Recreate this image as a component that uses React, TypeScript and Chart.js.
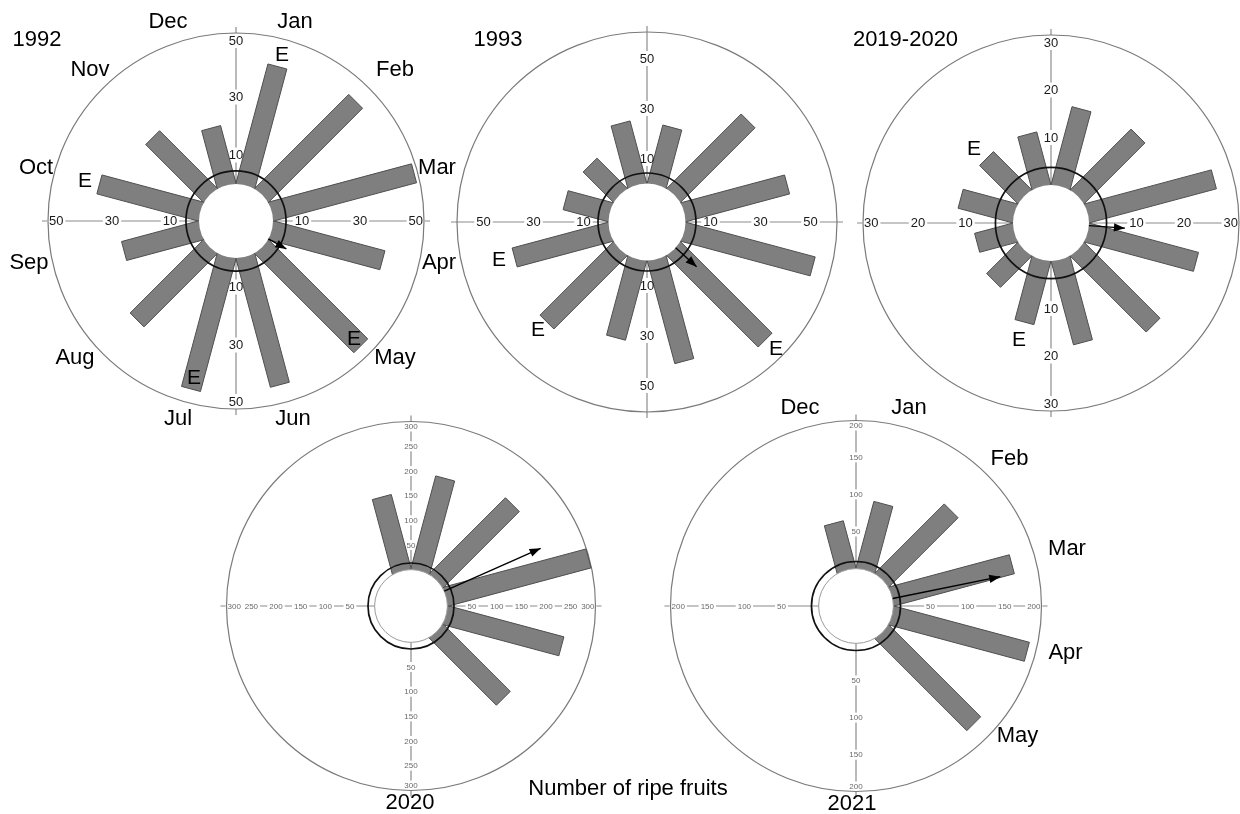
import React, { useEffect, useRef } from 'react';
import { Chart, registerables } from 'chart.js';

Chart.register(...registerables);

const MONTHS = ['Jan', 'Feb', 'Mar', 'Apr', 'May', 'Jun', 'Jul', 'Aug', 'Sep', 'Oct', 'Nov', 'Dec'];

// Ripe fruits counted per month, January to December (null = month not sampled)
const fruits1992 = [42.4, 45.6, 50.8, 39.5, 48.1, 45.7, 47.2, 35.5, 27.2, 36.0, 27.9, 20.4];
const fruits1993 = [23.7, 41.8, 42.6, 53.2, 51.4, 42.2, 32.5, 41.2, 39.4, 18.3, 16.8, 25.4];
const fruits2019_2020 = [16.8, 17.9, 27.5, 23.6, 22.4, 18.0, 13.6, 9.1, 8.1, 11.7, 11.2, 11.3];
const fruits2020 = [194, 217, 299, 242, 191, null, null, null, null, null, null, 155];
const fruits2021 = [92, 131, 167, 188, 174, null, null, null, null, null, null, 65];

// Radial tick labels of each rose
const ticks1992 = [10, 30, 50];
const ticks1993 = [10, 30, 50];
const ticks2019_2020 = [10, 20, 30];
const ticks2020 = [50, 100, 150, 200, 250, 300];
const ticks2021 = [50, 100, 150, 200];

// Mean vector (angle clockwise from north, length in fruits) and the reference circle
const mean1992 = { angle: 119, length: 7.1, circle: 4.5 };
const mean1993 = { angle: 132, length: 11.3, circle: 4.2 };
const mean2019_2020 = { angle: 94, length: 7.6, circle: 3.7 };
const mean2020 = { angle: 66, length: 214, circle: 13.4 };
const mean2021 = { angle: 78.5, length: 148, circle: 9.6 };

const FONT = '"Liberation Sans", Arial, Helvetica, sans-serif';
const HALF = 200; // half size of each rose canvas (px)
const BAR_HALF = 9.8; // half width of a month bar (px)

// Geometry of each rose on the page
const GEO = {
  y1992: { cx: 236, cy: 221, pxPerUnit: 2.9, holePx: 37, rimPx: 188, small: false },
  y1993: { cx: 647, cy: 222, pxPerUnit: 2.5, holePx: 38.5, rimPx: 190, small: false },
  y2019: { cx: 1051, cy: 223, pxPerUnit: 4.75, holePx: 38, rimPx: 188, small: false },
  y2020: { cx: 411, cy: 606, pxPerUnit: 0.493, holePx: 36.4, rimPx: 184.5, small: true },
  y2021: { cx: 856, cy: 606, pxPerUnit: 0.742, holePx: 37.4, rimPx: 185.5, small: true },
};

// Text annotations placed around the roses
const monthPos1992 = [
  [295, 21], [395, 69], [437, 167], [439, 262], [395, 357], [293, 418],
  [178, 418], [75, 357], [29, 262], [36, 167], [90, 69], [168, 21],
];
const monthPos2021 = [
  [909, 407], [1009.5, 458], [1067, 548], [1065.5, 652], [1017.5, 735],
  null, null, null, null, null, null, [800, 407],
];
const titles = [
  { text: '1992', x: 37, y: 39 },
  { text: '1993', x: 498, y: 39 },
  { text: '2019-2020', x: 905.5, y: 39 },
  { text: '2020', x: 410, y: 802 },
  { text: '2021', x: 852, y: 803 },
  { text: 'Number of ripe fruits', x: 628, y: 788 },
];
const extremeMarks = [
  [282, 53], [85, 179], [354, 337], [194, 376],
  [499, 258], [538, 328], [776, 347],
  [974, 147], [1019, 338],
];

function Rose({ values, ticks, mean, geo }: any) {
  const ref = useRef<HTMLCanvasElement>(null);

  useEffect(() => {
    const canvas = ref.current;
    if (!canvas) return;
    const k = geo.pxPerUnit;
    const ext = HALF / k;
    const hole = geo.holePx / k;
    const rim = geo.rimPx / k;
    const hw = BAR_HALF / k;

    const at = (deg: number, d: number, off = 0) => {
      const t = (deg * Math.PI) / 180;
      return { x: d * Math.sin(t) + off * Math.cos(t), y: d * Math.cos(t) - off * Math.sin(t) };
    };

    const bars: any[] = [];
    values.forEach((v: number | null, i: number) => {
      if (v == null) return;
      const a = 15 + 30 * i;
      const r0 = hole * 0.8;
      const r1 = hole + v;
      bars.push({
        label: MONTHS[i],
        data: [at(a, r0, -hw), at(a, r0, hw), at(a, r1, hw), at(a, r1, -hw), at(a, r0, -hw)],
        showLine: true,
        pointRadius: 0,
        borderColor: '#4e4e4e',
        borderWidth: 1,
        backgroundColor: '#7f7f7f',
        borderJoinStyle: 'miter',
        tension: 0,
        fill: false,
        polygon: true,
      });
    });

    const arrow = {
      label: 'Mean vector',
      data: [at(mean.angle, hole), at(mean.angle, hole + mean.length)],
      showLine: true,
      pointRadius: 0,
      borderColor: '#000',
      borderWidth: 1.4,
      fill: false,
      arrow: true,
    };

    const tickFontSize = geo.small ? 8 : 13;
    const tickFont = `${tickFontSize}px ${FONT}`;
    const tickColor = geo.small ? '#6a6a6a' : '#1a1a1a';
    const axisColor = geo.small ? '#8a8a8a' : '#8c8c8c';
    const dirs = [0, 90, 180, 270];

    const labelSpots = (chart: any) => {
      const xs = chart.scales.x;
      const ys = chart.scales.y;
      const ctx = chart.ctx;
      ctx.font = tickFont;
      const out: any[] = [];
      for (const a of dirs) {
        for (const t of ticks) {
          const txt = String(t);
          const w = ctx.measureText(txt).width;
          const halfExtent = a % 180 === 0 ? tickFontSize / 2 : w / 2;
          const maxPx = geo.rimPx - halfExtent - 1;
          const d = Math.min(hole + t, maxPx / k);
          const p = at(a, d);
          out.push({ txt, w, x: xs.getPixelForValue(p.x), y: ys.getPixelForValue(p.y) });
        }
      }
      return out;
    };

    const plugin = {
      id: 'roseFrame',
      beforeDatasetsDraw(chart: any) {
        const ctx = chart.ctx;
        const xs = chart.scales.x;
        const ys = chart.scales.y;
        const P = (p: any) => ({ x: xs.getPixelForValue(p.x), y: ys.getPixelForValue(p.y) });
        const c = P({ x: 0, y: 0 });
        const unit = xs.getPixelForValue(1) - c.x;
        ctx.save();
        // axes
        ctx.strokeStyle = axisColor;
        ctx.lineWidth = 1.2;
        for (const a of dirs) {
          const p0 = P(at(a, hole));
          const p1 = P(at(a, rim + 6 / k));
          ctx.beginPath();
          ctx.moveTo(p0.x, p0.y);
          ctx.lineTo(p1.x, p1.y);
          ctx.stroke();
        }
        // gaps in the axes behind the tick labels
        ctx.fillStyle = '#fff';
        for (const s of labelSpots(chart)) {
          ctx.fillRect(s.x - s.w / 2 - 2, s.y - tickFontSize / 2 - 1, s.w + 4, tickFontSize + 2);
        }
        // outer circle
        ctx.beginPath();
        ctx.arc(c.x, c.y, rim * unit, 0, Math.PI * 2);
        ctx.strokeStyle = '#7a7a7a';
        ctx.lineWidth = 1.2;
        ctx.stroke();
        ctx.restore();
      },
      beforeDatasetDraw(chart: any, args: any) {
        const ds = chart.data.datasets[args.index];
        const ctx = chart.ctx;
        if (ds.polygon) {
          const pts = args.meta.data;
          ctx.save();
          ctx.beginPath();
          pts.forEach((p: any, j: number) => (j ? ctx.lineTo(p.x, p.y) : ctx.moveTo(p.x, p.y)));
          ctx.closePath();
          ctx.fillStyle = ds.backgroundColor;
          ctx.fill();
          ctx.restore();
        }
        if (ds.arrow) {
          const xs = chart.scales.x;
          const ys = chart.scales.y;
          const cx = xs.getPixelForValue(0);
          const cy = ys.getPixelForValue(0);
          const unit = xs.getPixelForValue(1) - cx;
          ctx.save();
          ctx.beginPath();
          ctx.arc(cx, cy, hole * unit, 0, Math.PI * 2);
          ctx.fillStyle = '#fff';
          ctx.fill();
          if (geo.small) {
            ctx.strokeStyle = '#9a9a9a';
            ctx.lineWidth = 1;
            ctx.stroke();
          }
          ctx.beginPath();
          ctx.arc(cx, cy, (hole + mean.circle) * unit, 0, Math.PI * 2);
          ctx.strokeStyle = '#111';
          ctx.lineWidth = 1.7;
          ctx.stroke();
          ctx.restore();
        }
      },
      afterDatasetsDraw(chart: any) {
        const ctx = chart.ctx;
        ctx.save();
        ctx.font = tickFont;
        ctx.fillStyle = tickColor;
        ctx.textAlign = 'center';
        ctx.textBaseline = 'middle';
        for (const s of labelSpots(chart)) ctx.fillText(s.txt, s.x, s.y + 0.5);
        // arrow head on the mean vector
        const pts = chart.getDatasetMeta(0).data;
        if (pts.length === 2) {
          const a = pts[0];
          const b = pts[1];
          const dx = b.x - a.x;
          const dy = b.y - a.y;
          const L = Math.hypot(dx, dy) || 1;
          const ux = dx / L;
          const uy = dy / L;
          const hl = 11;
          const hwd = 4.2;
          ctx.beginPath();
          ctx.moveTo(b.x, b.y);
          ctx.lineTo(b.x - ux * hl - uy * hwd, b.y - uy * hl + ux * hwd);
          ctx.lineTo(b.x - ux * hl + uy * hwd, b.y - uy * hl - ux * hwd);
          ctx.closePath();
          ctx.fillStyle = '#000';
          ctx.fill();
        }
        ctx.restore();
      },
    };

    const chart = new Chart(canvas, {
      type: 'scatter',
      data: { datasets: [arrow, ...bars] as any },
      options: {
        responsive: false,
        maintainAspectRatio: false,
        animation: false,
        events: [],
        layout: { padding: 0 },
        plugins: { legend: { display: false }, tooltip: { enabled: false } },
        scales: {
          x: { type: 'linear', min: -ext, max: ext, display: false },
          y: { type: 'linear', min: -ext, max: ext, display: false },
        },
      },
      plugins: [plugin],
    } as any);

    return () => chart.destroy();
  }, []);

  return (
    <canvas
      ref={ref}
      width={2 * HALF}
      height={2 * HALF}
      style={{ position: 'absolute', left: geo.cx - HALF, top: geo.cy - HALF, width: 2 * HALF, height: 2 * HALF }}
    />
  );
}

function Label({ x, y, text, size = 22 }: any) {
  return (
    <div
      style={{
        position: 'absolute',
        left: x,
        top: y,
        transform: 'translate(-50%, -50%)',
        fontSize: size,
        lineHeight: `${size}px`,
        whiteSpace: 'nowrap',
        color: '#000',
        fontFamily: FONT,
      }}
    >
      {text}
    </div>
  );
}

export default function App() {
  return (
    <div
      style={{
        position: 'absolute',
        left: 0,
        top: 0,
        width: 1240,
        height: 814,
        overflow: 'hidden',
        background: '#fff',
        fontFamily: FONT,
      }}
    >
      <Rose values={fruits1992} ticks={ticks1992} mean={mean1992} geo={GEO.y1992} />
      <Rose values={fruits1993} ticks={ticks1993} mean={mean1993} geo={GEO.y1993} />
      <Rose values={fruits2019_2020} ticks={ticks2019_2020} mean={mean2019_2020} geo={GEO.y2019} />
      <Rose values={fruits2020} ticks={ticks2020} mean={mean2020} geo={GEO.y2020} />
      <Rose values={fruits2021} ticks={ticks2021} mean={mean2021} geo={GEO.y2021} />

      {MONTHS.map((m, i) => (
        <Label key={`a${m}`} x={monthPos1992[i][0]} y={monthPos1992[i][1]} text={m} />
      ))}
      {MONTHS.map((m, i) => {
        const p = monthPos2021[i];
        return p ? <Label key={`b${m}`} x={p[0]} y={p[1]} text={m} /> : null;
      })}
      {titles.map((t) => (
        <Label key={t.text} x={t.x} y={t.y} text={t.text} />
      ))}
      {extremeMarks.map((p, i) => (
        <Label key={`e${i}`} x={p[0]} y={p[1]} text="E" size={21} />
      ))}
    </div>
  );
}
